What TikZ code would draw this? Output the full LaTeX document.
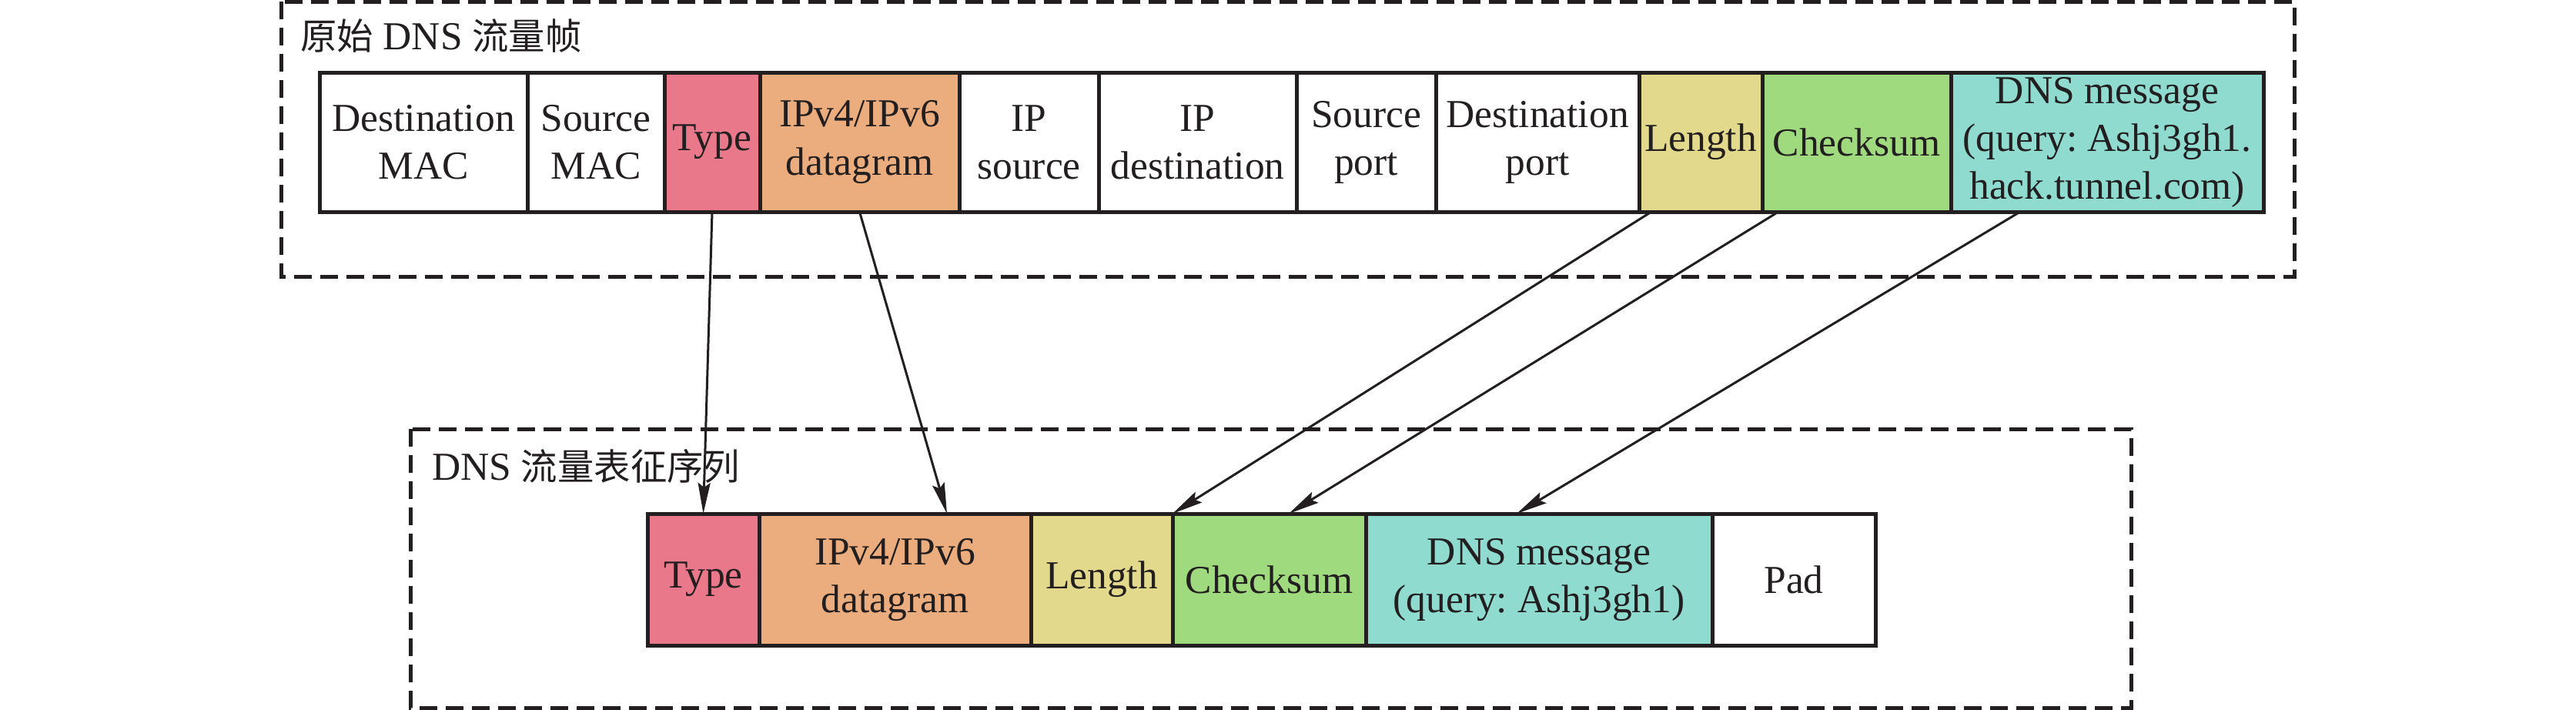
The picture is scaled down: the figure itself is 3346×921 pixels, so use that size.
\documentclass[tikz,border=0pt]{standalone}
\usepackage{fontspec}
\setmainfont{Liberation Serif}
\newfontfamily\cjk[Scale=0.92]{Noto Sans CJK SC}
\usetikzlibrary{arrows.meta,positioning}
\frenchspacing
\definecolor{ink}{RGB}{35,31,32}
\definecolor{typecol}{RGB}{232,120,138}
\definecolor{ipcol}{RGB}{235,173,125}
\definecolor{lencol}{RGB}{227,217,140}
\definecolor{ckscol}{RGB}{160,218,127}
\definecolor{dnscol}{RGB}{143,219,208}

\begin{document}
\begin{tikzpicture}[x=0.2pt,y=-0.2pt,font=\fontsize{10.3}{12.4}\selectfont,text=ink,
  field/.style={draw=ink,line width=1pt,minimum height=36.2pt,inner sep=0pt,outer sep=0pt,align=center},
  seqfield/.style={field,minimum height=34.2pt},
  frame/.style={draw=ink,line width=1pt,dash pattern=on 4.6pt off 2.2pt},
  link/.style={draw=ink,line width=0.6pt,-{Stealth[length=8pt,width=3.2pt,inset=1.2pt]}}]
  \useasboundingbox (0,0) rectangle (3346,921);
  % Frame 1: raw DNS traffic frame
  \draw[frame] (365,2) rectangle (2980,359);
  \node[anchor=base west,inner sep=0pt] (title1) at (389,64) {{\cjk 原始} DNS {\cjk 流量帧}};
  \node[field,anchor=north west,minimum width=54pt] (dmac) at (415,94) {Destination\\MAC};
  \node[field,minimum width=35.6pt,right=0pt of dmac] (smac) {Source\\MAC};
  \node[field,fill=typecol,minimum width=24.8pt,right=0pt of smac] (type) {Type};
  \node[field,fill=ipcol,minimum width=51.8pt,right=0pt of type] (ip) {IPv4/IPv6\\datagram};
  \node[field,minimum width=36.2pt,right=0pt of ip] (ipsrc) {IP\\source};
  \node[field,minimum width=51.4pt,right=0pt of ipsrc] (ipdst) {IP\\destination};
  \node[field,minimum width=36.2pt,right=0pt of ipdst] (sport) {Source\\port};
  \node[field,minimum width=52.8pt,right=0pt of sport] (dport) {Destination\\port};
  \node[field,fill=lencol,minimum width=32pt,right=0pt of dport] (len) {Length};
  \node[field,fill=ckscol,minimum width=49pt,right=0pt of len] (cks) {Checksum};
  \node[field,fill=dnscol,minimum width=81.2pt,right=0pt of cks] (dns) {DNS message\\(query: Ashj3gh1.\\hack.tunnel.com)};
  % Frame 2: DNS traffic feature sequence
  \draw[frame] (533,557) rectangle (2768,919);
  \node[anchor=base west,inner sep=0pt] (title2) at (560,623) {DNS {\cjk 流量表征序列}};
  \node[seqfield,fill=typecol,anchor=north west,minimum width=29pt] (type2) at (841,667) {Type};
  \node[seqfield,fill=ipcol,minimum width=70.6pt,right=0pt of type2] (ip2) {IPv4/IPv6\\datagram};
  \node[seqfield,fill=lencol,minimum width=36.8pt,right=0pt of ip2] (len2) {Length};
  \node[seqfield,fill=ckscol,minimum width=50.2pt,right=0pt of len2] (cks2) {Checksum};
  \node[seqfield,fill=dnscol,minimum width=90pt,right=0pt of cks2] (dns2) {DNS message\\(query: Ashj3gh1)};
  \node[seqfield,minimum width=42.4pt,right=0pt of dns2] (pad) {Pad};
  % mapping
  \draw[link] (type.south) -- (type2.north);
  \draw[link] (ip.south) -- ([xshift=13.5pt]ip2.north);
  \draw[link] ([xshift=3.2pt]len.south west) -- (len2.north east);
  \draw[link] ([xshift=4.2pt]cks.south west) -- ([xshift=5.1pt]cks2.north);
  \draw[link] ([xshift=18pt]dns.south west) -- ([xshift=-5.8pt]dns2.north);
\end{tikzpicture}
\end{document}
